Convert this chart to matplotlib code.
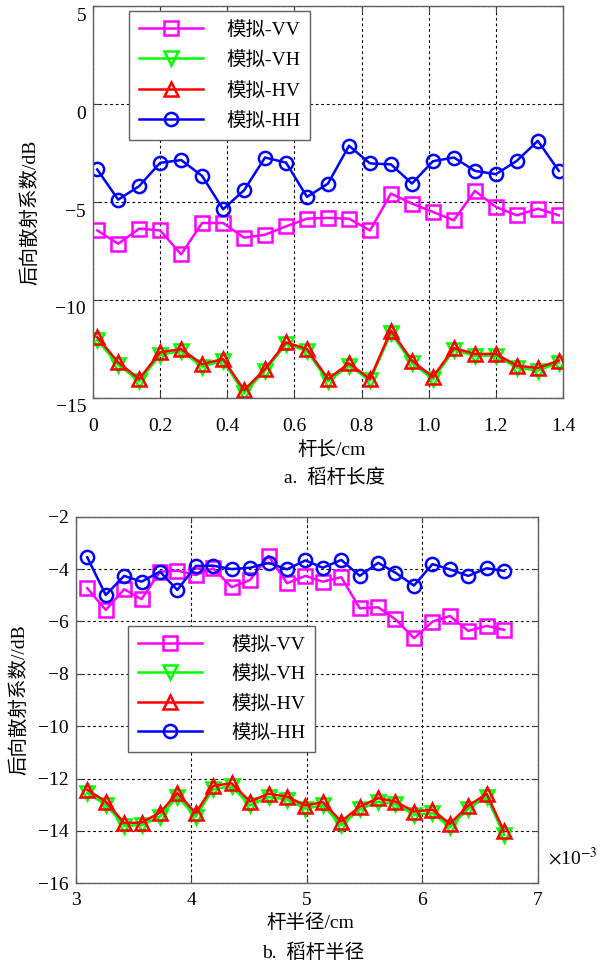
import matplotlib
matplotlib.use("Agg")
import matplotlib.pyplot as plt
from matplotlib.transforms import ScaledTranslation
from matplotlib.ticker import FixedLocator, FixedFormatter

plt.rcParams['font.family'] = ['Liberation Serif', 'Noto Sans CJK SC', 'DejaVu Sans']
plt.rcParams['axes.unicode_minus'] = True

# ---------------- data: (a) stem length ----------------
length_cm = [0.0125, 0.075, 0.1375, 0.2, 0.2625, 0.325, 0.3875, 0.45, 0.5125, 0.575,
             0.6375, 0.7, 0.7625, 0.825, 0.8875, 0.95, 1.0125, 1.075, 1.1375, 1.2,
             1.2625, 1.325, 1.3875]
a_vv = [-6.45, -7.13, -6.36, -6.45, -7.67, -6.07, -6.07, -6.82, -6.67, -6.24,
        -5.85, -5.81, -5.85, -6.45, -4.57, -5.08, -5.51, -5.93, -4.43, -5.25,
        -5.68, -5.34, -5.68]
a_vh = [-12.05, -13.3, -14.15, -12.8, -12.6, -13.4, -13.1, -14.75, -13.6, -12.25,
        -12.6, -14.15, -13.35, -14.1, -11.7, -13.2, -14.05, -12.55, -12.85, -12.85,
        -13.45, -13.6, -13.2]
a_hv = [-11.9, -13.18, -14.03, -12.67, -12.5, -13.27, -13.01, -14.6, -13.52, -12.16,
        -12.5, -14.03, -13.23, -14.03, -11.56, -13.09, -13.93, -12.45, -12.75, -12.75,
        -13.35, -13.47, -13.09]
a_hh = [-3.34, -4.88, -4.19, -3.0, -2.86, -3.67, -5.37, -4.40, -2.73, -2.99,
        -4.74, -4.06, -2.13, -3.03, -3.08, -4.06, -2.92, -2.73, -3.41, -3.58,
        -2.90, -1.88, -3.41]

# ---------------- data: (b) stem radius (x10^-3 cm) ----------------
radius_e3 = [3.10, 3.26, 3.42, 3.57, 3.73, 3.88, 4.04, 4.19, 4.35, 4.51, 4.67, 4.83,
             4.99, 5.14, 5.30, 5.46, 5.62, 5.77, 5.93, 6.09, 6.24, 6.40, 6.56, 6.71]
b_vv = [-4.73, -5.56, -4.77, -5.15, -4.10, -4.06, -4.23, -3.97, -4.69, -4.42, -3.50, -4.54,
        -4.26, -4.48, -4.31, -5.50, -5.46, -5.92, -6.64, -6.01, -5.79, -6.36, -6.17, -6.32]
b_vh = [-12.55, -13.0, -13.8, -13.78, -13.45, -12.7, -13.45, -12.4, -12.3, -13.02, -12.7, -12.8,
        -13.15, -13.02, -13.78, -13.18, -12.88, -12.98, -13.38, -13.32, -13.85, -13.15, -12.7, -14.15]
b_hv = [-12.43, -12.88, -13.70, -13.68, -13.30, -12.56, -13.32, -12.28, -12.18, -12.88, -12.58, -12.69,
        -13.03, -12.90, -13.64, -13.07, -12.75, -12.88, -13.26, -13.19, -13.73, -13.04, -12.58, -14.02]
b_hh = [-3.55, -4.99, -4.26, -4.48, -4.10, -4.80, -3.88, -3.87, -4.00, -3.95, -3.76, -4.01,
        -3.67, -3.95, -3.65, -4.26, -3.76, -4.14, -4.63, -3.81, -4.01, -4.26, -3.97, -4.07]

labels = ['模拟-VV', '模拟-VH', '模拟-HV', '模拟-HH']
colors = ['#FF00FF', '#00FF00', '#FF0000', '#0000FF']
markers = ['s', 'v', '^', 'o']

a_xticks = [0, 0.2, 0.4, 0.6, 0.8, 1.0, 1.2, 1.4]
a_xticklabels = ['0', '0.2', '0.4', '0.6', '0.8', '1.0', '1.2', '1.4']
a_yticks = [-15, -10, -5, 0, 5]
b_xticks = [3, 4, 5, 6, 7]
b_yticks = [-16, -14, -12, -10, -8, -6, -4, -2]

FS = 14
fig = plt.figure(figsize=(6.03, 9.65), dpi=100)

ax1 = fig.add_axes([93 / 603, 1 - 398 / 965, 470 / 603, 392 / 965])
ax2 = fig.add_axes([75.7 / 603, 1 - 883.3 / 965, 461.8 / 603, 366.6 / 965])


def draw(ax, x, series, xpad):
    for ys, lab, c, m in zip(series, labels, colors, markers):
        ax.plot(x, ys, color=c, marker=m, markersize=9.5, markerfacecolor='none',
                markeredgecolor=c, markeredgewidth=1.8, linewidth=1.8, label=lab)
    ax.grid(True, color='black', linestyle=(0, (2.5, 2.5)), linewidth=0.8)
    for s in ax.spines.values():
        s.set_color('#606060')
        s.set_linewidth(1.0)
    ax.tick_params(direction='in', top=True, right=True, length=4, width=0.8,
                   color='#404040', labelsize=FS)
    ax.tick_params(axis='x', pad=xpad)
    ax.tick_params(axis='y', pad=5)


draw(ax1, length_cm, [a_vv, a_vh, a_hv, a_hh], 14.5)
ax1.set_xlim(0, 1.4)
ax1.set_ylim(-15, 5)
ax1.xaxis.set_major_locator(FixedLocator(a_xticks))
ax1.xaxis.set_major_formatter(FixedFormatter(a_xticklabels))
ax1.set_yticks(a_yticks)
ax1.set_yticklabels(['\u221215', '\u221210', '\u22125', '0', '5'])
off = ScaledTranslation(0, -8 / 100, fig.dpi_scale_trans)
for t in ax1.get_yticklabels():
    t.set_transform(t.get_transform() + off)
leg1 = ax1.legend(loc='upper left', bbox_to_anchor=(0.077, 0.987), fontsize=FS,
                  frameon=True, fancybox=False, edgecolor='#606060', framealpha=1,
                  handlelength=3.3, handletextpad=1.2, labelspacing=0.65,
                  borderpad=0.5, borderaxespad=0)
leg1.get_frame().set_linewidth(1.0)

draw(ax2, radius_e3, [b_vv, b_vh, b_hv, b_hh], 6.5)
ax2.set_xlim(3, 7)
ax2.set_ylim(-16, -2)
ax2.set_xticks(b_xticks)
ax2.set_xticklabels([str(v) for v in b_xticks])
ax2.set_yticks(b_yticks)
ax2.set_yticklabels(['\u2212%d' % abs(v) for v in b_yticks])
leg2 = ax2.legend(loc='upper left', bbox_to_anchor=(0.114, 0.702), fontsize=FS,
                  frameon=True, fancybox=False, edgecolor='#606060', framealpha=1,
                  handlelength=3.3, handletextpad=1.5, labelspacing=0.6,
                  borderpad=0.5, borderaxespad=0)
leg2.get_frame().set_linewidth(1.0)

# labels and captions
fig.text(332 / 603, 1 - 450 / 965, '杆长/cm', ha='center', va='center', fontsize=FS)
fig.text(335 / 603, 1 - 478 / 965, 'a.  稻杆长度', ha='center', va='center', fontsize=FS)
fig.text(30 / 603, 1 - 212 / 965, '后向散射系数/dB', ha='center', va='center',
         rotation=90, fontsize=FS)
fig.text(310 / 603, 1 - 923 / 965, '杆半径/cm', ha='center', va='center', fontsize=FS)
fig.text(313 / 603, 1 - 953 / 965, 'b.  稻杆半径', ha='center', va='center', fontsize=FS)
fig.text(19 / 603, 1 - 700 / 965, '后向散射系数//dB', ha='center', va='center',
         rotation=90, fontsize=FS)
fig.text(548 / 603, 1 - 858 / 965, r'$\times$10$^{-3}$', ha='left', va='center',
         fontsize=FS, math_fontfamily='stix')

fig.savefig('out.png', dpi=100)
